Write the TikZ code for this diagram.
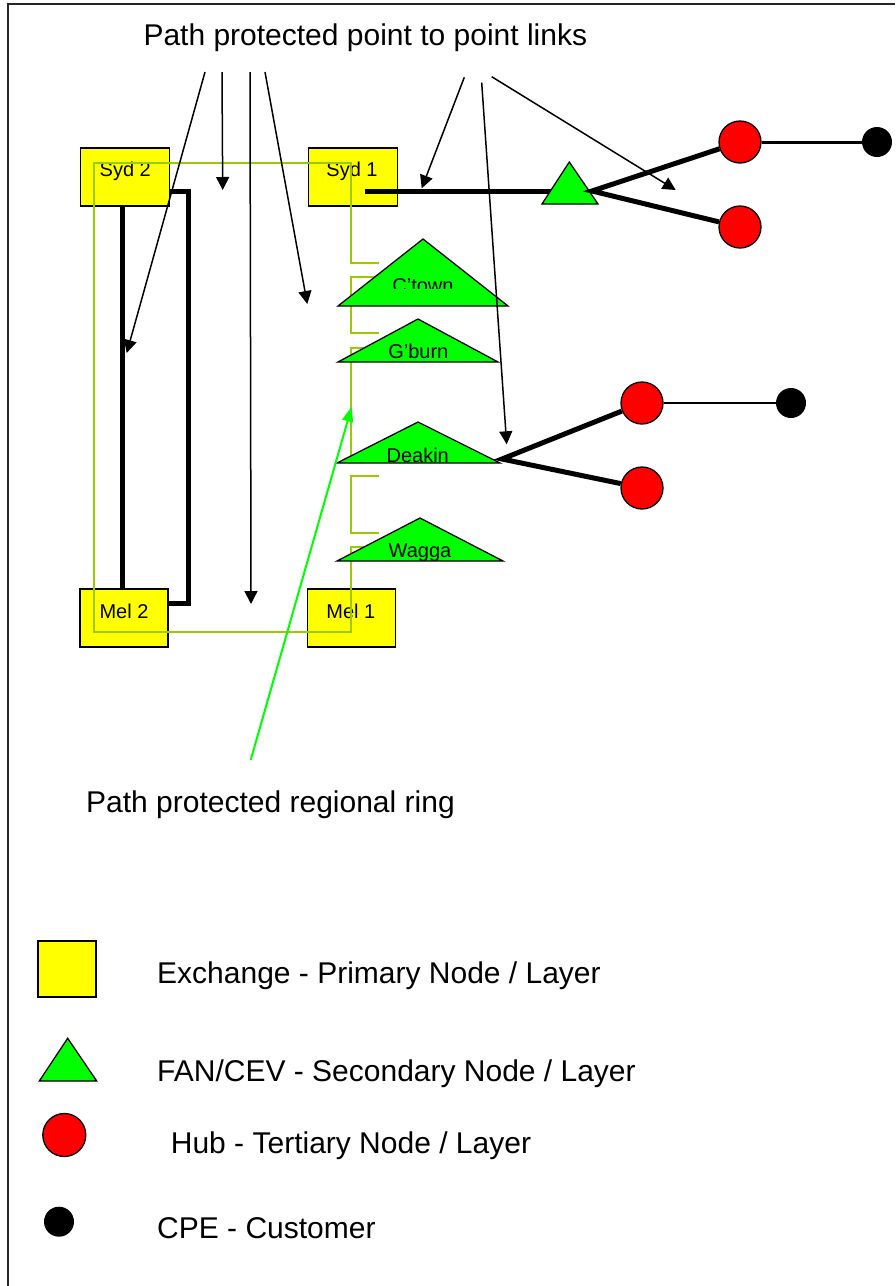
\documentclass[tikz,border=0pt]{standalone}
\usepackage{fontspec}
\setmainfont{Liberation Sans}
\usetikzlibrary{arrows.meta,calc}
\definecolor{exch}{RGB}{255,255,0}
\definecolor{fanc}{RGB}{0,255,0}
\definecolor{hubc}{RGB}{255,0,0}
\definecolor{ringc}{RGB}{153,204,0}
\definecolor{ptrgreen}{RGB}{0,255,0}
\tikzset{
  exchbox/.style={draw, line width=1.3pt, fill=exch, minimum width=89pt, minimum height=58pt, inner sep=0pt},
  boxlabel/.style={anchor=base, inner sep=0pt, font=\fontsize{20}{24}\selectfont},
  fanshape/.style={draw, line width=1.3pt, fill=fanc, line join=miter},
  hubnode/.style={circle, draw, line width=1.3pt, fill=hubc, minimum size=42pt, inner sep=0pt},
  cpenode/.style={circle, fill=black, minimum size=30pt, inner sep=0pt},
  ring/.style={draw=ringc, line width=1.8pt},
  link/.style={line width=5pt, line join=miter},
  pointer/.style={line width=1.5pt, -{Triangle[length=13pt,width=13pt]}},
  greenpointer/.style={draw=ptrgreen, line width=2pt, -{Triangle[length=15pt,width=11pt]}},
  bigtext/.style={anchor=base west, inner sep=0pt, font=\fontsize{30}{36}\selectfont},
}
\begin{document}
\begin{tikzpicture}[x=1pt,y=-1pt]
\useasboundingbox (0,0) rectangle (895,1286);
% outer frame
\draw[line width=1.5pt, black!85] (8,1286) -- (8,4) -- (895,4);

% exchanges
\node[exchbox] (syd2) at (125,177) {};
\node[exchbox] (syd1) at (353,177) {};
\node[exchbox, minimum width=88pt] (mel2) at (124,618) {};
\node[exchbox, minimum width=88pt] (mel1) at (351.5,618) {};
\node[boxlabel] (syd2t) at (125.3,176.7) {Syd 2};
\node[boxlabel] (syd1t) at (352,176.7) {Syd 1};
\node[boxlabel] (mel2t) at (124,618.3) {Mel 2};
\node[boxlabel] (mel1t) at (350.8,618.3) {Mel 1};

% regional ring
\draw[ring] (379,263) -- (351,263) -- (351,163) -- (94,163) -- (94,632) -- (351,632) -- (351,547) -- (385,547);
\draw[ring] (385,277) -- (351,277) -- (351,333) -- (379,333);
\draw[ring] (385,348) -- (351,348) -- (351,462) -- (365,462);
\draw[ring] (379,476) -- (351,476) -- (351,533) -- (379,533);

% point to point links between the core exchanges
\draw[link] ([xshift=-3pt]syd2.south) -- ([xshift=-2pt]mel2.north);
\draw[link] ([yshift=-14pt]syd2.east) -- ++(18,0) |- ([yshift=15pt]mel2.east);

% ring FANs
\draw[fanshape] (338,306) -- (423,239) -- (508,306) -- cycle;
\begin{scope}
  \clip (370,265) rectangle (480,288);
  \node[boxlabel] (ctown) at (423,292.5) {C’town};
\end{scope}
\draw[fanshape] (338,362) -- (418,319) -- (498,362) -- cycle;
\node[boxlabel] (gburn) at (418.3,358.3) {G’burn};
\draw[fanshape] (337,463) -- (418,422) -- (500,463) -- cycle;
\node[boxlabel] (deakin) at (417.7,462.3) {Deakin};
\draw[fanshape] (337,561) -- (420,518) -- (503,561) -- cycle;
\node[boxlabel] (wagga) at (420,557.3) {Wagga};
\coordinate (dk-r) at (502,459);

% FAN fed from Syd 1
\coordinate (s1port) at (365,191);
\coordinate (fan0-l) at (555,191);
\coordinate (fan0-r) at (592,191);
\draw[link] (s1port) -- (fan0-l);
\draw[fanshape] (542,204) -- (569.3,162) -- (598,204) -- cycle;

% hubs and customers
\node[hubnode] (hub1) at (740,142) {};
\node[hubnode] (hub2) at (740,227) {};
\node[cpenode] (cpe1) at (877,142) {};
\node[hubnode] (hub3) at (642,403) {};
\node[hubnode] (hub4) at (642,488) {};
\node[cpenode] (cpe2) at (791,403) {};
\draw[link] (hub1) -- (fan0-r) -- (hub2);
\draw[link] (hub3) -- (dk-r) -- (hub4);
\draw[line width=3pt] (hub1) -- (cpe1);
\draw[line width=2pt] (hub3) -- (cpe2);

% captions
\node[bigtext] (title) at (143.3,45) {Path protected point to point links};
\node[bigtext] (ringtext) at (86,812) {Path protected regional ring};

% pointers from the captions
\coordinate (p1s) at (205,72);   \coordinate (p1e) at (126.7,353);
\coordinate (p2s) at (222,72);   \coordinate (p2e) at (222.7,190);
\coordinate (p3s) at (250,72);   \coordinate (p3e) at (251,604);
\coordinate (p4s) at (265,72);   \coordinate (p4e) at (307.3,304);
\coordinate (p5s) at (464.3,77.3); \coordinate (p5e) at (421.7,188.3);
\coordinate (p6s) at (481.7,82.7); \coordinate (p6e) at (506.7,444.3);
\coordinate (p7s) at (491.7,76.7); \coordinate (p7e) at (675.7,190);
\foreach \i in {1,...,7} { \draw[pointer] (p\i s) -- (p\i e); }
\coordinate (gs) at (250.7,760); \coordinate (ge) at (351.7,406.7);
\draw[greenpointer] (gs) -- (ge);

% legend
\node[exchbox, minimum width=58pt, minimum height=56pt] (lg-ex) at (67,969) {};
\draw[fanshape] (39.3,1081) -- (67.7,1038.3) -- (96.7,1081) -- cycle;
\coordinate (lg-fan) at (67.7,1066);
\node[hubnode, minimum size=43pt] (lg-hub) at (64.3,1135) {};
\node[cpenode] (lg-cpe) at (59,1221.7) {};
\node[bigtext] (lt-ex) at (157,983.3) {Exchange - Primary Node / Layer};
\node[bigtext] (lt-fan) at (157,1081.7) {FAN/CEV - Secondary Node / Layer};
\node[bigtext] (lt-hub) at (170.7,1153.3) {Hub - Tertiary Node / Layer};
\node[bigtext] (lt-cpe) at (157,1238.3) {CPE - Customer};
\end{tikzpicture}
\end{document}
